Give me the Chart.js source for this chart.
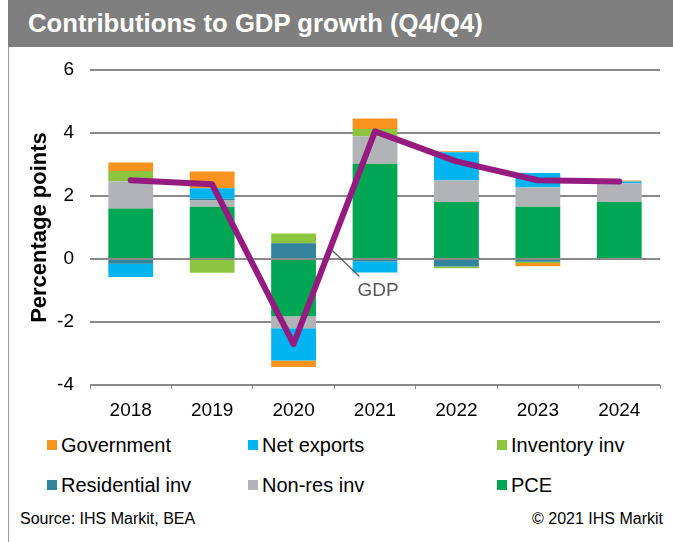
<!DOCTYPE html>
<html>
<head>
<meta charset="utf-8">
<script src="https://cdn.jsdelivr.net/npm/chart.js@4"></script>
<style>
  html, body { margin: 0; padding: 0; background: #fff; }
  body { width: 673px; height: 542px; position: relative; overflow: hidden; font-family: 'Liberation Sans', Arial, sans-serif; }
  #titleBar { position: absolute; left: 8px; top: 0; width: 665px; height: 47px; background: #7f7f7f; }
  #titleBar span { position: absolute; left: 20px; top: 9px; color: #fff; font-weight: bold; font-size: 25.7px; }
  #frame { position: absolute; left: 8px; top: 47px; width: 1px; height: 495px; background: #9a9a9a; }
  #chartBox { position: absolute; left: 0; top: 47px; width: 673px; height: 380px; }
  .lg { position: absolute; font-size: 20px; color: #000; line-height: 22px; white-space: nowrap; }
  .lg i { position: absolute; left: -14px; top: 6px; width: 10px; height: 10px; }
  .note { position: absolute; top: 510px; font-size: 16px; color: #000; }
</style>
</head>
<body>
<div id="titleBar"><span>Contributions to GDP growth (Q4/Q4)</span></div>
<div id="frame"></div>
<div id="chartBox"><canvas id="gdpChart" width="673" height="380"></canvas></div>
<div id="legend"></div>
<div class="note" style="left:20px;">Source: IHS Markit, BEA</div>
<div class="note" style="right:10px;">&copy; 2021 IHS Markit</div>
<script>
(function () {
  'use strict';

  /* ── Data ────────────────────────────────────────────────── */
  var years = ['2018', '2019', '2020', '2021', '2022', '2023', '2024'];
  var pce         = [1.60, 1.66, -1.82, 3.02, 1.81, 1.66, 1.81];
  var nonRes      = [0.87, 0.20, -0.38, 0.88, 0.68, 0.61, 0.59];
  var residential = [-0.15, 0.05, 0.50, -0.08, -0.24, -0.09, 0.00];
  var inventory   = [0.32, -0.44, 0.31, 0.23, -0.05, -0.04, 0.00];
  var netExports  = [-0.42, 0.34, -1.02, -0.35, 0.90, 0.46, 0.06];
  var government  = [0.27, 0.53, -0.21, 0.33, 0.03, -0.10, 0.03];
  var gdp         = [2.50, 2.37, -2.70, 4.05, 3.10, 2.50, 2.46];
  var yTicks      = [-4, -2, 0, 2, 4, 6];

  var $ = function (s) { return document.querySelector(s); };
  var FONT = "'Liberation Sans', Arial, sans-serif";

  /* stack order (bottom first); legend shows the reverse */
  var series = [
    { label: 'PCE',             data: pce,         color: '#00a651' },
    { label: 'Non-res inv',     data: nonRes,      color: '#b2b3b6' },
    { label: 'Residential inv', data: residential, color: '#31849b' },
    { label: 'Inventory inv',   data: inventory,   color: '#8cc63f' },
    { label: 'Net exports',     data: netExports,  color: '#00b5ef' },
    { label: 'Government',      data: government,  color: '#f7931e' }
  ];

  /* ── HTML legend, 3 columns ──────────────────────────────── */
  function buildLegend() {
    var cols = [61, 262, 511];
    var rows = [434, 474];
    var items = series.slice().reverse();
    $('#legend').innerHTML = items.map(function (s, i) {
      return '<div class="lg" style="left:' + cols[i % 3] + 'px;top:' + rows[Math.floor(i / 3)] + 'px;">' +
        '<i style="background:' + s.color + '"></i>' + s.label + '</div>';
    }).join('');
  }

  /* ── GDP label with leader line ──────────────────────────── */
  var gdpLabel = {
    id: 'gdpLabel',
    afterDatasetsDraw: function (c) {
      var x = c.scales.x, y = c.scales.y, ctx = c.ctx;
      var t = 0.44;
      var x0 = x.getPixelForValue(2), x1 = x.getPixelForValue(3);
      var y0 = y.getPixelForValue(gdp[2]), y1 = y.getPixelForValue(gdp[3]);
      var px = x0 + t * (x1 - x0) + 3, py = y0 + t * (y1 - y0);
      ctx.save();
      ctx.strokeStyle = '#595959';
      ctx.lineWidth = 1.2;
      ctx.beginPath();
      ctx.moveTo(px, py);
      ctx.lineTo(px + 27, py + 26);
      ctx.stroke();
      ctx.fillStyle = '#595959';
      ctx.font = '19px ' + FONT;
      ctx.textBaseline = 'middle';
      ctx.fillText('GDP', px + 25, py + 40);
      ctx.restore();
    }
  };

  function drawChart() {
    var datasets = series.map(function (s) {
      return {
        type: 'bar',
        label: s.label,
        data: s.data,
        backgroundColor: s.color,
        borderWidth: 0,
        categoryPercentage: 1,
        barPercentage: 0.55,
        stack: 'contrib',
        order: 1
      };
    });
    datasets.push({
      type: 'line',
      label: 'GDP',
      data: gdp,
      borderColor: '#951b81',
      borderWidth: 6,
      borderCapStyle: 'round',
      borderJoinStyle: 'round',
      pointRadius: 0,
      fill: false,
      tension: 0,
      stack: 'gdp',
      order: 0
    });

    new Chart($('#gdpChart'), {
      type: 'bar',
      data: { labels: years, datasets: datasets },
      plugins: [gdpLabel],
      options: {
        responsive: false,
        animation: false,
        layout: { padding: { top: 23, right: 13, left: 0, bottom: 0 } },
        plugins: { legend: { display: false }, tooltip: { enabled: false } },
        scales: {
          x: {
            stacked: true,
            grid: { display: true, drawOnChartArea: false, drawTicks: true, tickLength: 4, color: '#888', lineWidth: 1 },
            border: { display: false },
            ticks: { color: '#000', font: { family: FONT, size: 19 }, padding: 10 },
            afterFit: function (s) { s.height = 42; }
          },
          y: {
            stacked: true,
            min: -4,
            max: 6,
            afterBuildTicks: function (s) { s.ticks = yTicks.map(function (v) { return { value: v }; }); },
            grid: { color: '#898989', lineWidth: 2, drawTicks: true, tickLength: 6, tickColor: 'rgba(0,0,0,0)' },
            border: { display: false },
            ticks: { color: '#000', font: { family: FONT, size: 19 }, padding: 10 },
            title: {
              display: true,
              text: 'Percentage points',
              color: '#000',
              font: { family: FONT, size: 22, weight: 'bold' },
              padding: { top: 27, bottom: 0 }
            },
            afterFit: function (s) { s.width = 90; }
          }
        }
      }
    });
  }

  function init() {
    buildLegend();
    drawChart();
  }

  if (document.readyState === 'loading') document.addEventListener('DOMContentLoaded', init);
  else init();
})();
</script>
</body>
</html>
